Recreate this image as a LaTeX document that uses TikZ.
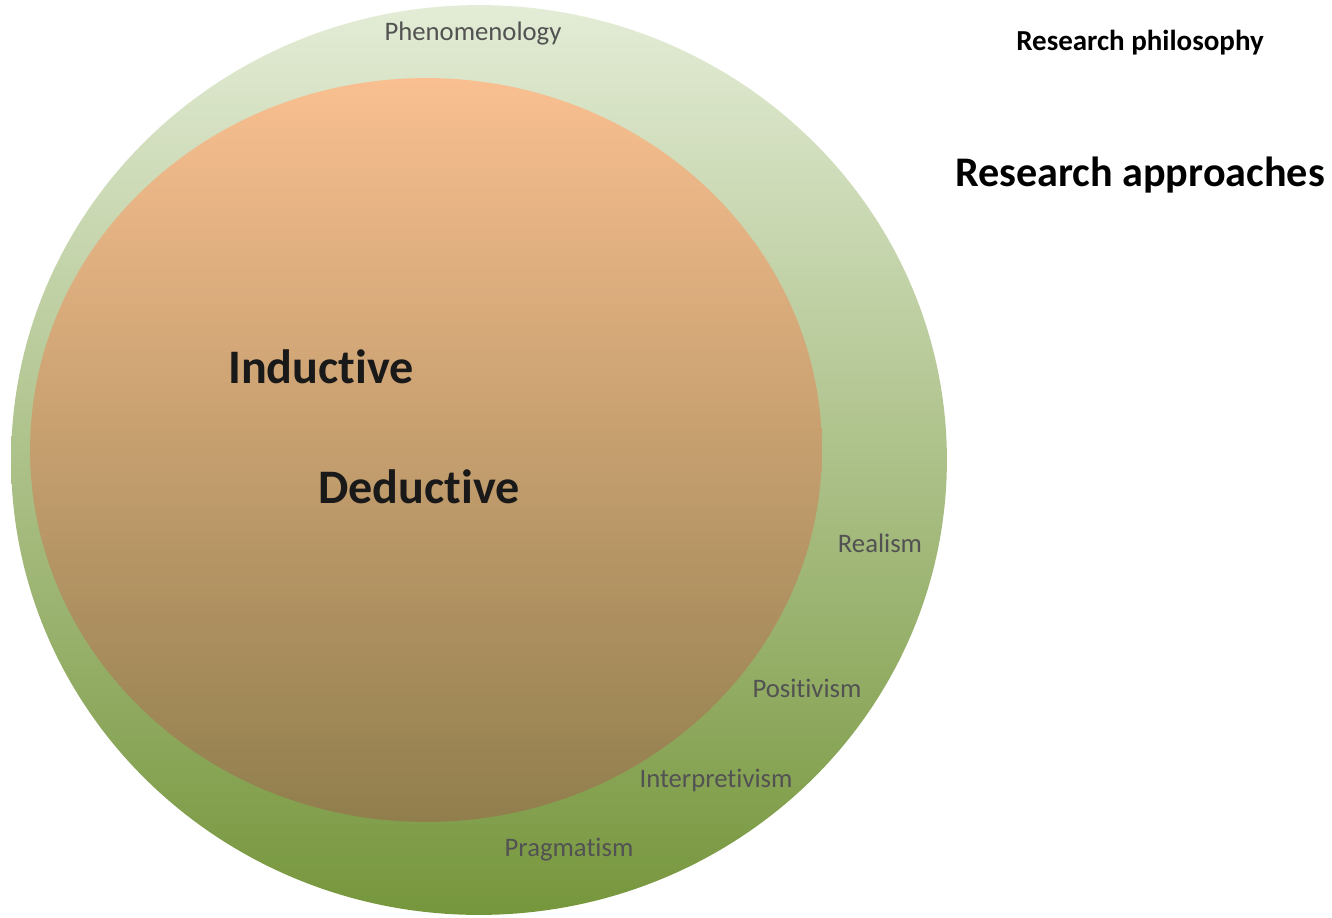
\documentclass[tikz,border=0pt]{standalone}
\usepackage{fontspec}
\setmainfont[Ligatures=NoCommon]{Carlito}
\definecolor{philotop}{HTML}{E3ECD6}
\definecolor{philobot}{HTML}{76963C}
\definecolor{apprtop}{HTML}{F9BF90}
\definecolor{apprbot}{HTML}{917E4D}
\definecolor{labelgray}{HTML}{525252}
\tikzset{
  philo/.style={text=labelgray, font=\fontsize{15.2}{17}\selectfont},
  appr/.style={text=black!90, font=\fontsize{27.4}{32}\selectfont\bfseries},
  legend/.style={text=black, font=\bfseries}
}
\begin{document}
\begin{tikzpicture}[x=0.02cm, y=-0.02cm]
\useasboundingbox (0,0) rectangle (1332,917);
% outer and inner rings
\shade[top color=philotop, bottom color=philobot] (479,460) ellipse [x radius=9.36cm, y radius=9.1cm];
\shade[top color=apprtop, bottom color=apprbot] (426,450) ellipse [x radius=7.92cm, y radius=7.44cm];
% philosophies
\foreach \x/\y/\name/\ptext in {473/34/phen/Phenomenology, 880/543/real/Realism, 807/688/posi/Positivism, 716/780/inte/Interpretivism, 569/850/prag/Pragmatism}
{
    \node[philo] (\name) at (\x,\y) {\ptext};
}
% approaches
\node[appr] (ind) at (321,367) {Inductive};
\node[appr] (ded) at (419,487) {Deductive};
% legend
\node[legend, font=\fontsize{16.5}{19}\selectfont\bfseries] (leg1) at (1140,43) {Research philosophy};
\node[legend, font=\fontsize{24}{28}\selectfont\bfseries] (leg2) at (1140,175) {Research approaches};
\end{tikzpicture}
\end{document}
